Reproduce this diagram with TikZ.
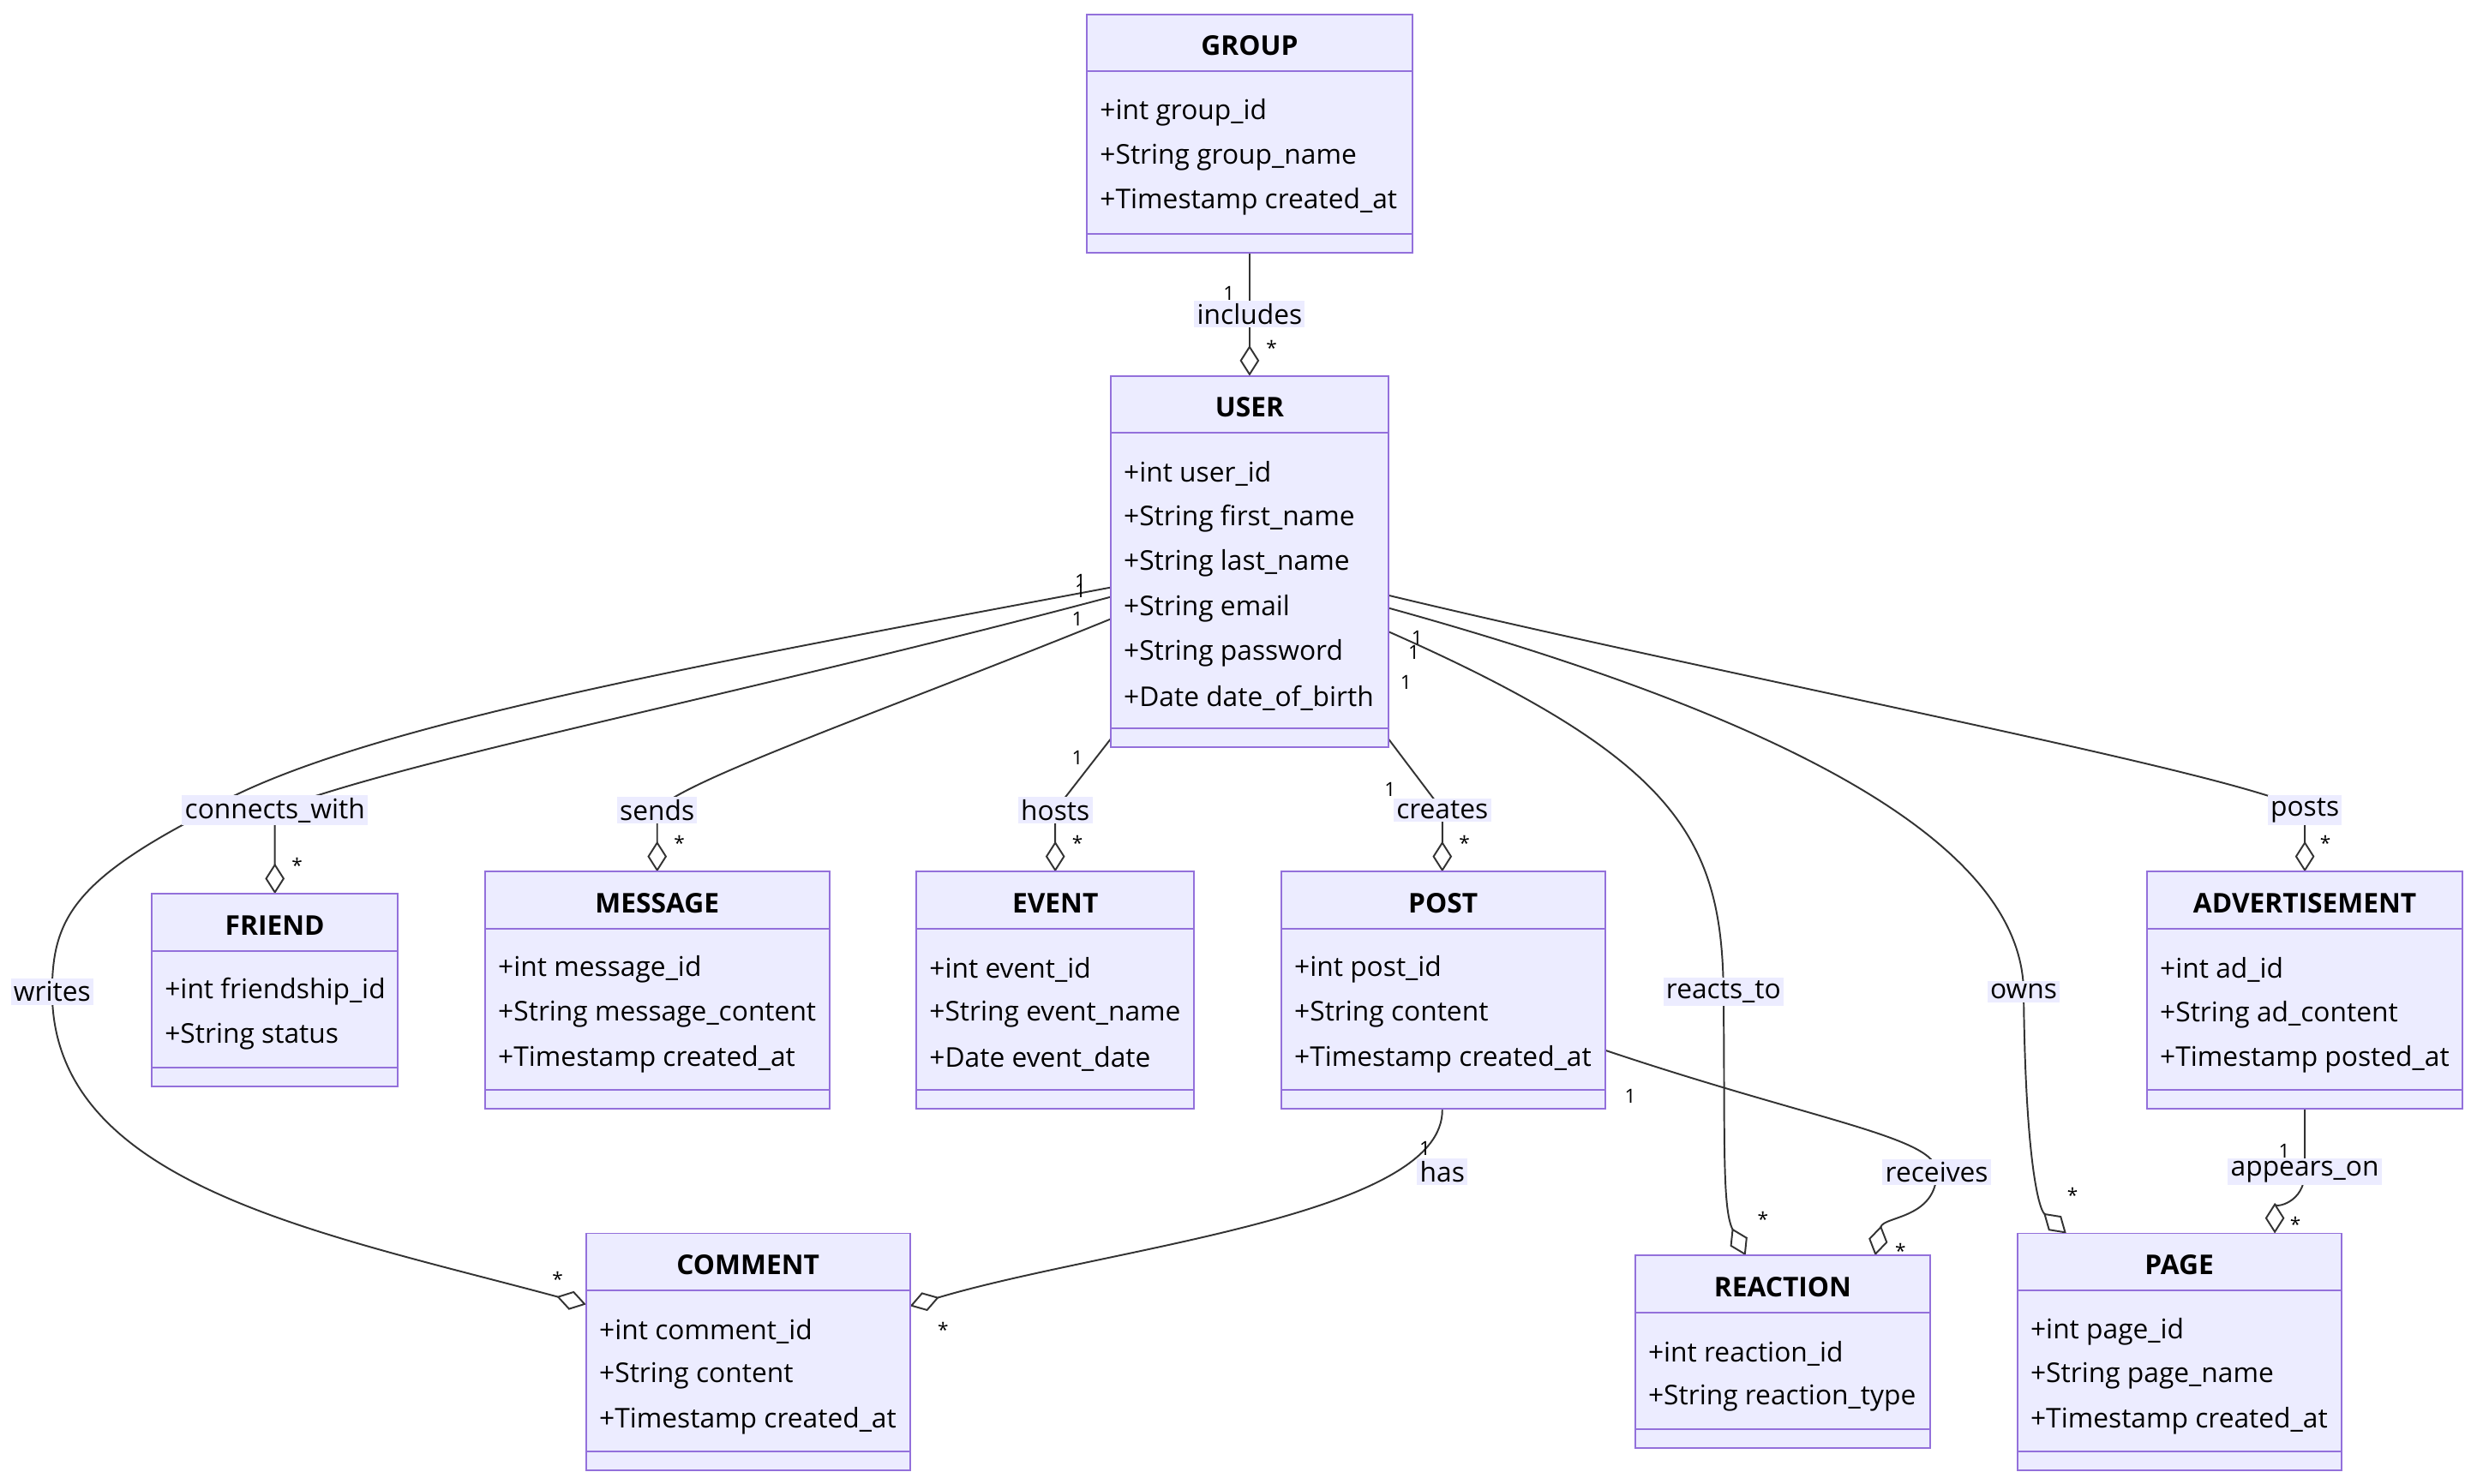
\documentclass[tikz,border=0pt]{standalone}
\usepackage{fontspec}
\setmainfont{Open Sans}
\usetikzlibrary{arrows.meta}
\definecolor{boxfill}{HTML}{ECECFF}
\definecolor{boxline}{HTML}{9370DB}
\definecolor{edgeline}{HTML}{333333}
\tikzset{
  classbox/.style={draw=boxline, fill=boxfill, line width=0.6pt, inner sep=0pt},
  divider/.style={draw=boxline, line width=0.6pt},
  title/.style={font=\fontsize{9.8}{12}\selectfont\bfseries},
  attr/.style={anchor=west, inner sep=0pt, font=\fontsize{9.8}{12}\selectfont},
  rel/.style={draw=edgeline, line width=0.6pt, -{Diamond[open, fill=white, length=11pt, width=7pt]}},
  plain/.style={draw=edgeline, line width=0.6pt},
  rlabel/.style={fill=boxfill, inner sep=1pt, font=\fontsize{9.8}{12}\selectfont},
  mult/.style={inner sep=0pt, font=\fontsize{7}{8}\selectfont}
}
% #1 name, #2 left, #3 top, #4 right, #5 bottom, #6 title, #7 attributes
\newcommand{\umlclass}[7]{%
  \node[classbox, minimum width={(#4-#2)*0.02cm}, minimum height={(#5-#3)*0.02cm}]
    (#1) at ({(#2+#4)/2},{(#3+#5)/2}) {};
  \draw[divider] (#2,#3+36) -- (#4,#3+36);
  \draw[divider] (#2,#5-12) -- (#4,#5-12);
  \node[title] at ({(#2+#4)/2},#3+20) {#6};
  \foreach \a [count=\i] in {#7}
    \node[attr] at (#2+8,{#3+62+28.4*(\i-1)}) {\a};
}
\begin{document}
\begin{tikzpicture}[x=0.02cm, y=-0.02cm]
\useasboundingbox (0,0) rectangle (1568,939.7);

% connectors first
\coordinate (gb) at (791,160);
\coordinate (ut) at (791,238);
\draw[rel] (gb) -- (ut);

\coordinate (uw1) at (703,372);
\coordinate (uw2) at (703,378);
\coordinate (uw3) at (703,392);
\coordinate (usw) at (703,468);
\coordinate (use) at (879,468);
\coordinate (ue1) at (879,377);
\coordinate (ue2) at (879,385);
\coordinate (ue3) at (879,400);

\coordinate (lcw) at (174,513);
\coordinate (lwr) at (33,628);
\coordinate (lse) at (416,513);
\coordinate (lho) at (668,513);
\coordinate (lcr) at (913,513);
\coordinate (lre) at (1091,628);
\coordinate (low) at (1281,628);
\coordinate (lpo) at (1459,513);
\coordinate (lha) at (913,742);
\coordinate (lrc) at (1226,742);
\coordinate (lap) at (1459,742);

\coordinate (friendt) at (174,566);
\coordinate (messaget) at (416,552);
\coordinate (eventt) at (668,552);
\coordinate (postt) at (913,552);
\coordinate (advt) at (1459,552);
\coordinate (reactt1) at (1105,795);
\coordinate (reactt2) at (1187,795);
\coordinate (paget1) at (1308,781);
\coordinate (paget2) at (1440,781);
\coordinate (commentw) at (371,826);
\coordinate (commente) at (576,827);
\coordinate (postb) at (913,702);
\coordinate (poste) at (1016,665);
\coordinate (advb) at (1459,702);

\draw[rel] (uw2) .. controls (470,440) and (260,480) .. (lcw) .. controls (174,535) .. (friendt);
\draw[rel] (uw1) .. controls (420,425) and (200,465) .. (120,520) .. controls (45,560) and (33,585) .. (lwr) .. controls (33,750) and (200,780) .. (commentw);
\draw[rel] (uw3) .. controls (560,450) and (430,495) .. (lse) -- (messaget);
\draw[rel] (usw) -- (lho) -- (eventt);
\draw[rel] (use) -- (lcr) -- (postt);
\draw[rel] (ue1) .. controls (1100,430) and (1420,490) .. (lpo) -- (advt);
\draw[rel] (ue3) .. controls (1060,480) and (1090,530) .. (lre) .. controls (1092,720) and (1090,765) .. (reactt1);
\draw[rel] (ue2) .. controls (1150,460) and (1280,540) .. (low) .. controls (1282,730) and (1290,765) .. (paget1);
\draw[rel] (postb) .. controls (915,770) and (700,790) .. (commente);
\draw[rel] (poste) .. controls (1150,710) and (1226,720) .. (lrc) .. controls (1226,772) and (1192,770) .. (reactt2);
\draw[rel] (advb) -- (lap) .. controls (1459,762) and (1440,765) .. (paget2);

% classes
\umlclass{group}{688}{9}{894}{160}{GROUP}{+int group\_id,+String group\_name,+Timestamp created\_at}
\umlclass{user}{703}{238}{879}{473}{USER}{+int user\_id,+String first\_name,+String last\_name,+String email,+String password,+Date date\_of\_birth}
\umlclass{friend}{96}{566}{252}{688}{FRIEND}{+int friendship\_id,+String status}
\umlclass{message}{307}{552}{525}{702}{MESSAGE}{+int message\_id,+String message\_content,+Timestamp created\_at}
\umlclass{event}{580}{552}{756}{702}{EVENT}{+int event\_id,+String event\_name,+Date event\_date}
\umlclass{post}{811}{552}{1016}{702}{POST}{+int post\_id,+String content,+Timestamp created\_at}
\umlclass{advert}{1359}{552}{1559}{702}{ADVERTISEMENT}{+int ad\_id,+String ad\_content,+Timestamp posted\_at}
\umlclass{comment}{371}{781}{576}{931}{COMMENT}{+int comment\_id,+String content,+Timestamp created\_at}
\umlclass{reaction}{1035}{795}{1222}{917}{REACTION}{+int reaction\_id,+String reaction\_type}
\umlclass{page}{1277}{781}{1482}{931}{PAGE}{+int page\_id,+String page\_name,+Timestamp created\_at}

% labels
\node[rlabel] at (791,199) {includes};
\node[rlabel] at (lcw) {connects\_with};
\node[rlabel] at (lwr) {writes};
\node[rlabel] at (lse) {sends};
\node[rlabel] at (lho) {hosts};
\node[rlabel] at (lcr) {creates};
\node[rlabel] at (lre) {reacts\_to};
\node[rlabel] at (low) {owns};
\node[rlabel] at (lpo) {posts};
\node[rlabel] at (lha) {has};
\node[rlabel] at (lrc) {receives};
\node[rlabel] at (lap) {appears\_on};

% multiplicities
\node[mult] at (778,186) {1};
\node[mult] at (805,220) {*};
\node[mult] at (684,368) {1};
\node[mult] at (684,374) {1};
\node[mult] at (682,392) {1};
\node[mult] at (188,548) {*};
\node[mult] at (353,810) {*};
\node[mult] at (430,534) {*};
\node[mult] at (682,480) {1};
\node[mult] at (682,534) {*};
\node[mult] at (880,500) {1};
\node[mult] at (927,534) {*};
\node[mult] at (897,404) {1};
\node[mult] at (895,413) {1};
\node[mult] at (890,432) {1};
\node[mult] at (1116,772) {*};
\node[mult] at (1312,757) {*};
\node[mult] at (1472,534) {*};
\node[mult] at (902,727) {1};
\node[mult] at (597,842) {*};
\node[mult] at (1032,694) {1};
\node[mult] at (1203,792) {*};
\node[mult] at (1446,729) {1};
\node[mult] at (1453,775) {*};
\end{tikzpicture}
\end{document}
